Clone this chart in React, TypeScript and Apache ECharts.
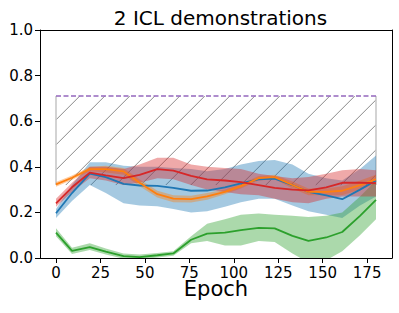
import React, { useEffect, useRef } from "react";
import * as echarts from "echarts";

const epochs = [0, 9, 19, 28, 38, 47, 57, 66, 76, 85, 95, 104, 114, 123, 133, 142, 152, 161, 171, 180];

const blueMean = [0.196, 0.285, 0.37, 0.355, 0.325, 0.318, 0.316, 0.308, 0.295, 0.296, 0.31, 0.327, 0.345, 0.348, 0.32, 0.29, 0.275, 0.258, 0.3, 0.34];
const blueUpper = [0.215, 0.32, 0.42, 0.42, 0.405, 0.4, 0.4, 0.395, 0.39, 0.38, 0.39, 0.41, 0.425, 0.43, 0.41, 0.37, 0.35, 0.34, 0.39, 0.45];
const blueLower = [0.175, 0.25, 0.32, 0.285, 0.24, 0.23, 0.227, 0.215, 0.2, 0.205, 0.225, 0.245, 0.26, 0.26, 0.23, 0.205, 0.19, 0.175, 0.23, 0.27];

const orangeMean = [0.323, 0.352, 0.39, 0.39, 0.38, 0.33, 0.28, 0.26, 0.258, 0.27, 0.29, 0.315, 0.35, 0.355, 0.32, 0.29, 0.29, 0.295, 0.32, 0.345];
const orangeUpper = [0.333, 0.362, 0.4, 0.405, 0.395, 0.345, 0.295, 0.275, 0.273, 0.285, 0.3, 0.325, 0.36, 0.365, 0.335, 0.305, 0.305, 0.315, 0.34, 0.365];
const orangeLower = [0.313, 0.342, 0.38, 0.375, 0.365, 0.315, 0.265, 0.245, 0.243, 0.255, 0.28, 0.305, 0.34, 0.345, 0.305, 0.275, 0.275, 0.275, 0.3, 0.325];

const greenMean = [0.111, 0.031, 0.048, 0.028, 0.008, 0.004, 0.012, 0.02, 0.08, 0.107, 0.111, 0.122, 0.132, 0.13, 0.097, 0.075, 0.09, 0.114, 0.185, 0.255];
const greenUpper = [0.13, 0.045, 0.065, 0.042, 0.02, 0.015, 0.022, 0.03, 0.095, 0.15, 0.17, 0.19, 0.195, 0.19, 0.185, 0.18, 0.185, 0.2, 0.27, 0.34];
const greenLower = [0.095, 0.018, 0.035, 0.015, -0.003, -0.006, 0.002, 0.01, 0.065, 0.075, 0.055, 0.055, 0.075, 0.07, 0.02, -0.02, -0.01, 0.03, 0.1, 0.17];

const redMean = [0.24, 0.31, 0.374, 0.362, 0.35, 0.365, 0.39, 0.383, 0.36, 0.345, 0.34, 0.333, 0.32, 0.308, 0.3, 0.297, 0.31, 0.33, 0.33, 0.328];
const redUpper = [0.26, 0.33, 0.4, 0.4, 0.39, 0.41, 0.44, 0.44, 0.41, 0.4, 0.395, 0.39, 0.37, 0.36, 0.35, 0.355, 0.37, 0.385, 0.39, 0.385];
const redLower = [0.225, 0.29, 0.35, 0.34, 0.32, 0.33, 0.35, 0.345, 0.32, 0.3, 0.29, 0.28, 0.275, 0.26, 0.245, 0.24, 0.26, 0.27, 0.27, 0.27];

const hatchX = [0, 180];
const hatchLow = 0.32;
const hatchHigh = 0.71;

const xTicks = [0, 25, 50, 75, 100, 125, 150, 175];

const FONT = "'DejaVu Sans', sans-serif";

function bandSeries(upper: number[], lower: number[], color: string, z: number) {
  return {
    type: "custom",
    z,
    silent: true,
    data: [[0, 0]],
    renderItem: (params: any, api: any) => {
      const pts: number[][] = [];
      for (let i = 0; i < epochs.length; i++) pts.push(api.coord([epochs[i], upper[i]]));
      for (let i = epochs.length - 1; i >= 0; i--) pts.push(api.coord([epochs[i], lower[i]]));
      const cs = params.coordSys;
      return {
        type: "polygon",
        shape: { points: pts },
        style: { fill: color, stroke: "none" },
        clipPath: { type: "rect", shape: { x: cs.x, y: cs.y, width: cs.width, height: cs.height } },
      };
    },
  };
}

function lineSeries(mean: number[], color: string, z: number) {
  return {
    type: "line",
    z,
    silent: true,
    symbol: "none",
    data: epochs.map((e, i) => [e, mean[i]]),
    lineStyle: { color, width: 1.8 },
    clip: true,
  };
}

export default function App() {
  const ref = useRef<HTMLDivElement>(null);
  useEffect(() => {
    document.body.style.margin = "0";
    const chart = echarts.init(ref.current!, null, { renderer: "svg" });
    const hatchSeries = {
      type: "custom",
      z: 1,
      silent: true,
      data: [[0, 0]],
      renderItem: (params: any, api: any) => {
        const tl = api.coord([hatchX[0], hatchHigh]);
        const br = api.coord([hatchX[1], hatchLow]);
        const x0 = tl[0], y0 = tl[1];
        const w = br[0] - x0, h = br[1] - y0;
        const children: any[] = [];
        for (let c = 23.7; c < w + h; c += 25) {
          let sx, sy, ex, ey;
          if (c <= h) { sx = 0; sy = c; } else { sx = c - h; sy = h; }
          if (c <= w) { ex = c; ey = 0; } else { ex = w; ey = c - w; }
          children.push({
            type: "line",
            shape: { x1: x0 + sx, y1: y0 + sy, x2: x0 + ex, y2: y0 + ey },
            style: { stroke: "#8a8a8a", lineWidth: 1 },
          });
        }
        children.push({
          type: "line",
          shape: { x1: x0, y1: y0, x2: x0, y2: y0 + h },
          style: { stroke: "#c4c4c4", lineWidth: 1.5 },
        });
        children.push({
          type: "line",
          shape: { x1: x0 + w, y1: y0, x2: x0 + w, y2: y0 + h },
          style: { stroke: "#c4c4c4", lineWidth: 1.5 },
        });
        return { type: "group", children };
      },
    };
    const frameAxis = {
      axisLine: { show: true, onZero: false, lineStyle: { color: "#000", width: 1 } },
      axisTick: { show: false },
      axisLabel: { show: false },
      splitLine: { show: false },
    };
    const option: any = {
      animation: false,
      backgroundColor: "#fff",
      title: {
        text: "2 ICL demonstrations",
        left: 215.5,
        top: 3,
        textAlign: "center",
        textStyle: { fontFamily: FONT, fontSize: 20, fontWeight: "normal", color: "#000" },
      },
      grid: { left: 40, right: 7, top: 30, bottom: 55, show: false },
      xAxis: [
        {
          type: "value",
          min: -9,
          max: 189,
          name: "Epoch",
          nameLocation: "middle",
          nameGap: 23.5,
          nameMoveOverlap: false,
          nameTextStyle: { fontFamily: FONT, fontSize: 21, color: "#000", lineHeight: 14 },
          axisLine: { show: true, onZero: false, lineStyle: { color: "#000", width: 1 } },
          axisTick: { show: true, length: 5, customValues: xTicks, lineStyle: { color: "#000" } },
          axisLabel: { customValues: xTicks, fontFamily: FONT, fontSize: 15, color: "#000", margin: 9.5, lineHeight: 10 },
          splitLine: { show: false },
        },
        { type: "value", position: "top", min: -9, max: 189, ...frameAxis },
      ],
      yAxis: [
        {
          type: "value",
          min: 0,
          max: 1,
          interval: 0.2,
          axisLine: { show: true, onZero: false, lineStyle: { color: "#000", width: 1 } },
          axisTick: { show: true, length: 5, lineStyle: { color: "#000" } },
          axisLabel: { fontFamily: FONT, fontSize: 15, color: "#000", margin: 7, formatter: (v: number) => v.toFixed(1) },
          splitLine: { show: false },
        },
        { type: "value", position: "right", min: 0, max: 1, ...frameAxis },
      ],
      series: [
        hatchSeries,
        {
          type: "line",
          z: 2,
          silent: true,
          symbol: "none",
          data: [[hatchX[0], hatchHigh], [hatchX[1], hatchHigh]],
          lineStyle: { color: "#9467bd", width: 1.5, type: [5, 2.5] },
        },
        bandSeries(blueUpper, blueLower, "rgba(31,119,180,0.4)", 3),
        bandSeries(orangeUpper, orangeLower, "rgba(255,127,14,0.4)", 3),
        bandSeries(greenUpper, greenLower, "rgba(44,160,44,0.4)", 3),
        bandSeries(redUpper, redLower, "rgba(214,39,40,0.4)", 3),
        lineSeries(blueMean, "#1f77b4", 4),
        lineSeries(orangeMean, "#ff7f0e", 4),
        lineSeries(greenMean, "#2ca02c", 4),
        lineSeries(redMean, "#d62728", 4),
      ],
    };
    chart.setOption(option);
    return () => chart.dispose();
  }, []);
  return <div ref={ref} style={{ width: 399, height: 313 }} />;
}
